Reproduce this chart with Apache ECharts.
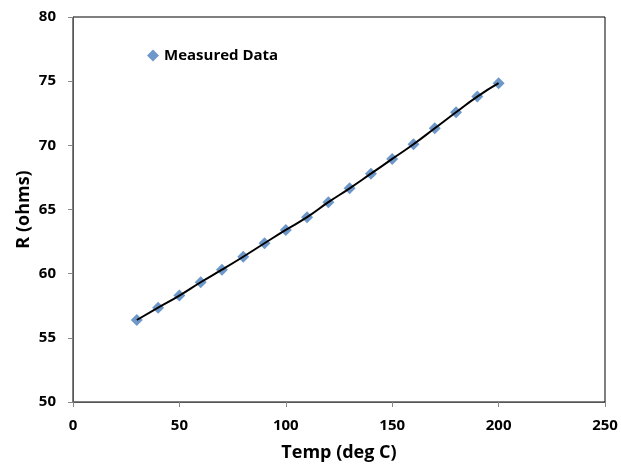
<!DOCTYPE html>
<html>
<head>
<meta charset="utf-8">
<script src="https://cdn.jsdelivr.net/npm/echarts@6/dist/echarts.min.js"></script>
<style>
  html, body { margin: 0; padding: 0; background: #fff; }
  #chart { width: 621px; height: 465px; }
</style>
</head>
<body>
<div id="chart"></div>
<script>
/* data */
const temps = [30, 40, 50, 60, 70, 80, 90, 100, 110, 120, 130, 140, 150, 160, 170, 180, 190, 200];
const resistance = [56.39, 57.35, 58.29, 59.33, 60.31, 61.32, 62.37, 63.41, 64.40, 65.57,
                    66.65, 67.79, 68.94, 70.08, 71.33, 72.58, 73.80, 74.84];
const xTicks = [0, 50, 100, 150, 200, 250];
const yTicks = [50, 55, 60, 65, 70, 75, 80];

const FONT = '"Open Sans", "Noto Sans", sans-serif';
const points = temps.map((t, i) => [t, resistance[i]]);

const chart = echarts.init(document.getElementById('chart'));
chart.setOption({
    animation: false,
    textStyle: { fontFamily: FONT },
    grid: {
        left: 73, right: 16, top: 17, bottom: 63,
        outerBoundsMode: 'none',
        show: true, borderColor: '#000', borderWidth: 1,
    },
    legend: {
        left: 142, top: 43,
        icon: 'diamond', itemWidth: 12, itemHeight: 12, itemGap: 4,
        data: ['Measured Data'],
        textStyle: { fontFamily: FONT, fontWeight: 'bold', fontSize: 15, color: '#000' },
    },
    xAxis: {
        type: 'value',
        min: xTicks[0], max: xTicks[xTicks.length - 1], interval: 50,
        name: 'Temp (deg C)', nameLocation: 'middle', nameGap: 42,
        nameMoveOverlap: false,
        nameTextStyle: { fontFamily: FONT, fontWeight: 'bold', fontSize: 18, color: '#000' },
        axisLine: { lineStyle: { color: '#555', width: 1 } },
        axisTick: { show: true, length: 5, lineStyle: { color: '#888' } },
        axisLabel: { fontFamily: FONT, fontWeight: 'bold', fontSize: 15, color: '#000', margin: 16 },
        splitLine: { show: false },
    },
    yAxis: {
        type: 'value',
        min: yTicks[0], max: yTicks[yTicks.length - 1], interval: 5,
        name: 'R (ohms)', nameLocation: 'middle', nameGap: 40,
        nameMoveOverlap: false,
        nameTextStyle: { fontFamily: FONT, fontWeight: 'bold', fontSize: 18, color: '#000' },
        axisLine: { show: true, lineStyle: { color: '#555', width: 1 } },
        axisTick: { show: true, length: 5, lineStyle: { color: '#888' } },
        axisLabel: { fontFamily: FONT, fontWeight: 'bold', fontSize: 15, color: '#000', margin: 17 },
        splitLine: { show: false },
    },
    series: [
        {
            name: 'Fit',
            type: 'line',
            data: points,
            smooth: true,
            symbol: 'none',
            lineStyle: { color: '#000', width: 2 },
            z: 3,
        },
        {
            name: 'Measured Data',
            type: 'scatter',
            data: points,
            symbol: 'diamond',
            symbolSize: 12,
            itemStyle: { color: '#4A7EBB' },
            z: 2,
        },
    ],
});
</script>
</body>
</html>
